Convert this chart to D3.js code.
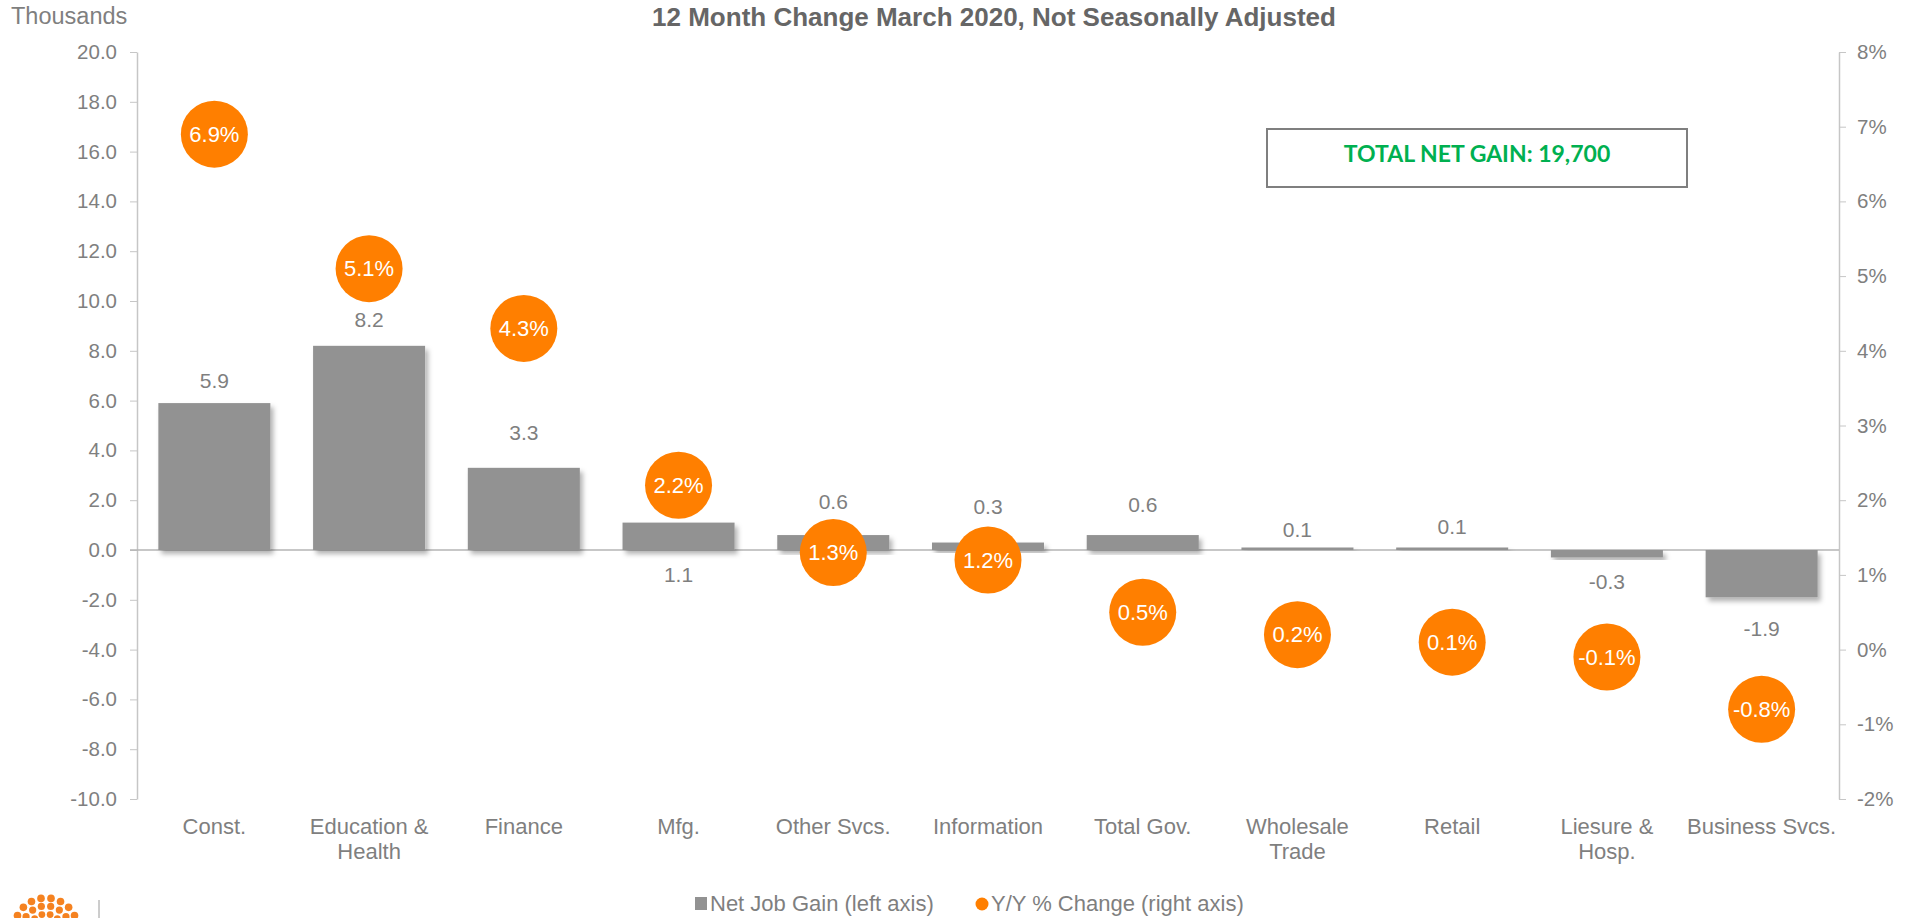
<!DOCTYPE html>
<meta charset="utf-8">
<title>Net Job Gain by Industry</title>
<style>
    body { margin: 0; background: #fff; }
    svg { display: block; font-family: Arial, "Liberation Sans", sans-serif; }
    .axis path, .axis line { stroke: #c6c6c6; }
    .axis text { fill: #7f7f7f; font-size: 20.5px; }
    .cat { fill: #7f7f7f; font-size: 22px; }
    .barlabel { fill: #7f7f7f; font-size: 21px; }
    .dotlabel { fill: #fff; font-size: 22px; }
</style>
<svg width="1919" height="918"></svg>
<script src="https://cdn.jsdelivr.net/npm/d3@7"></script>
<script>

    // data
    var categories = ["Const.", "Education &\nHealth", "Finance", "Mfg.", "Other Svcs.", "Information",
        "Total Gov.", "Wholesale\nTrade", "Retail", "Liesure &\nHosp.", "Business Svcs."];
    var jobGain = [5.9, 8.2, 3.3, 1.1, 0.6, 0.3, 0.6, 0.1, 0.1, -0.3, -1.9];   // thousands
    var yoyChange = [6.9, 5.1, 4.3, 2.2, 1.3, 1.2, 0.5, 0.2, 0.1, -0.1, -0.8]; // percent
    var leftTicks = d3.range(-10, 21, 2);
    var rightTicks = d3.range(-2, 9, 1);
    var totalText = "TOTAL NET GAIN: 19,700";

    // layout: where each bar label sits, relative to the end of its bar (px)
    var labelShift = [-22, -26, -35, 52, -33, -36, -30, -18, -21, 24, 31];

    // plain hyphen for negatives, like the original
    var f1 = function(d) { return d3.format(".1f")(d).replace("\u2212", "-"); };

    var svg = d3.select("svg"),
        plot = {left: 137, right: 1839, top: 52, bottom: 799};

    var x = d3.scaleBand()
        .domain(categories)
        .range([plot.left, plot.right])
        .paddingInner(0.276)
        .paddingOuter(0.138);

    var y = d3.scaleLinear().domain([-10, 20]).range([plot.bottom, plot.top]);
    var y2 = d3.scaleLinear().domain([-2, 8]).range([plot.bottom, plot.top]);

    var defs = svg.append("defs");
    var shadow = defs.append("filter").attr("id", "shadow")
        .attr("x", "-10%").attr("y", "-10%").attr("width", "130%").attr("height", "140%");
    shadow.append("feDropShadow")
        .attr("dx", 3).attr("dy", 4).attr("stdDeviation", 2.5)
        .attr("flood-color", "#000").attr("flood-opacity", 0.3);

    // axes
    svg.append("g")
        .attr("class", "axis")
        .attr("transform", "translate(" + plot.left + ",0)")
        .call(d3.axisLeft(y).tickValues(leftTicks).tickFormat(f1)
            .tickSize(7).tickSizeOuter(0).tickPadding(13));

    svg.append("g")
        .attr("class", "axis")
        .attr("transform", "translate(" + plot.right + ",0)")
        .call(d3.axisRight(y2).tickValues(rightTicks).tickFormat(function(d) { return d + "%"; })
            .tickSize(7).tickSizeOuter(0).tickPadding(11));

    svg.selectAll(".axis .domain").attr("stroke-width", 1.5);

    // zero line
    svg.append("line")
        .attr("x1", plot.left - 7).attr("x2", plot.right)
        .attr("y1", y(0)).attr("y2", y(0))
        .attr("stroke", "#b4b4b4").attr("stroke-width", 1.5);

    // bars
    svg.append("g")
        .selectAll("rect")
        .data(jobGain)
        .join("rect")
        .attr("x", function(d, i) { return x(categories[i]); })
        .attr("width", x.bandwidth())
        .attr("y", function(d) { return y(Math.max(0, d)); })
        .attr("height", function(d) { return Math.abs(y(d) - y(0)); })
        .attr("fill", "#929292")
        .attr("filter", "url(#shadow)");

    svg.append("g")
        .selectAll("text")
        .data(jobGain)
        .join("text")
        .attr("class", "barlabel")
        .attr("text-anchor", "middle")
        .attr("dy", "0.35em")
        .attr("x", function(d, i) { return x(categories[i]) + x.bandwidth() / 2; })
        .attr("y", function(d, i) { return y(d) + labelShift[i]; })
        .text(f1);

    // Y/Y dots
    var dots = svg.append("g")
        .selectAll("g")
        .data(yoyChange)
        .join("g")
        .attr("transform", function(d, i) {
            return "translate(" + (x(categories[i]) + x.bandwidth() / 2) + "," + y2(d) + ")";
        });
    dots.append("circle").attr("r", 33.5).attr("fill", "#ff7f00");
    dots.append("text")
        .attr("class", "dotlabel")
        .attr("text-anchor", "middle")
        .attr("dy", "0.35em")
        .text(function(d) { return f1(d) + "%"; });

    // category labels
    var cat = svg.append("g")
        .selectAll("text")
        .data(categories)
        .join("text")
        .attr("class", "cat")
        .attr("text-anchor", "middle")
        .attr("x", function(d) { return x(d) + x.bandwidth() / 2; })
        .attr("y", 834);
    cat.selectAll("tspan")
        .data(function(d) { return d.split("\n"); })
        .join("tspan")
        .attr("x", function() { return d3.select(this.parentNode).attr("x"); })
        .attr("dy", function(d, i) { return i ? 25 : 0; })
        .text(function(d) { return d; });

    // titles
    svg.append("text")
        .attr("x", 11).attr("y", 24)
        .attr("fill", "#7f7f7f").attr("font-size", "23.5px")
        .text("Thousands");

    svg.append("text")
        .attr("x", 994).attr("y", 26)
        .attr("text-anchor", "middle")
        .attr("fill", "#666").attr("font-size", "26px").attr("font-weight", "bold")
        .text("12 Month Change March 2020, Not Seasonally Adjusted");

    // total box
    svg.append("rect")
        .attr("x", 1267).attr("y", 129).attr("width", 420).attr("height", 58)
        .attr("fill", "#fff").attr("stroke", "#7f7f7f").attr("stroke-width", 2);
    svg.append("text")
        .attr("x", 1477).attr("y", 162)
        .attr("text-anchor", "middle")
        .attr("fill", "#00b050")
        .attr("font-family", "Lato, 'Open Sans', sans-serif")
        .attr("font-weight", "bold").attr("font-size", "23px")
        .text(totalText);

    // legend
    var legend = svg.append("g").attr("font-size", "22px").attr("fill", "#7f7f7f");
    legend.append("rect").attr("x", 695).attr("y", 897).attr("width", 12).attr("height", 13).attr("fill", "#929292");
    legend.append("text").attr("x", 710).attr("y", 911).text("Net Job Gain (left axis)");
    legend.append("circle").attr("cx", 982).attr("cy", 904).attr("r", 6.5).attr("fill", "#ff7f00");
    legend.append("text").attr("x", 991).attr("y", 911).text("Y/Y % Change (right axis)");

    // logo fragment, bottom left
    var logo = svg.append("g").attr("fill", "#f58220");
    [[8, 3.2, 3], [16, 3.4, 6], [24, 3.6, 8], [32, 3.8, 10]].forEach(function(ring) {
        var r = ring[0], n = ring[2];
        for (var k = 0; k < n; k++) {
            var a = Math.PI + Math.PI * (k + 0.5) / n;
            logo.append("circle")
                .attr("cx", 46 + r * Math.cos(a))
                .attr("cy", 930 + r * Math.sin(a))
                .attr("r", ring[1]);
        }
    });
    svg.append("line").attr("x1", 99).attr("x2", 99).attr("y1", 900).attr("y2", 918)
        .attr("stroke", "#9a9a9a").attr("stroke-width", 1);

</script>
